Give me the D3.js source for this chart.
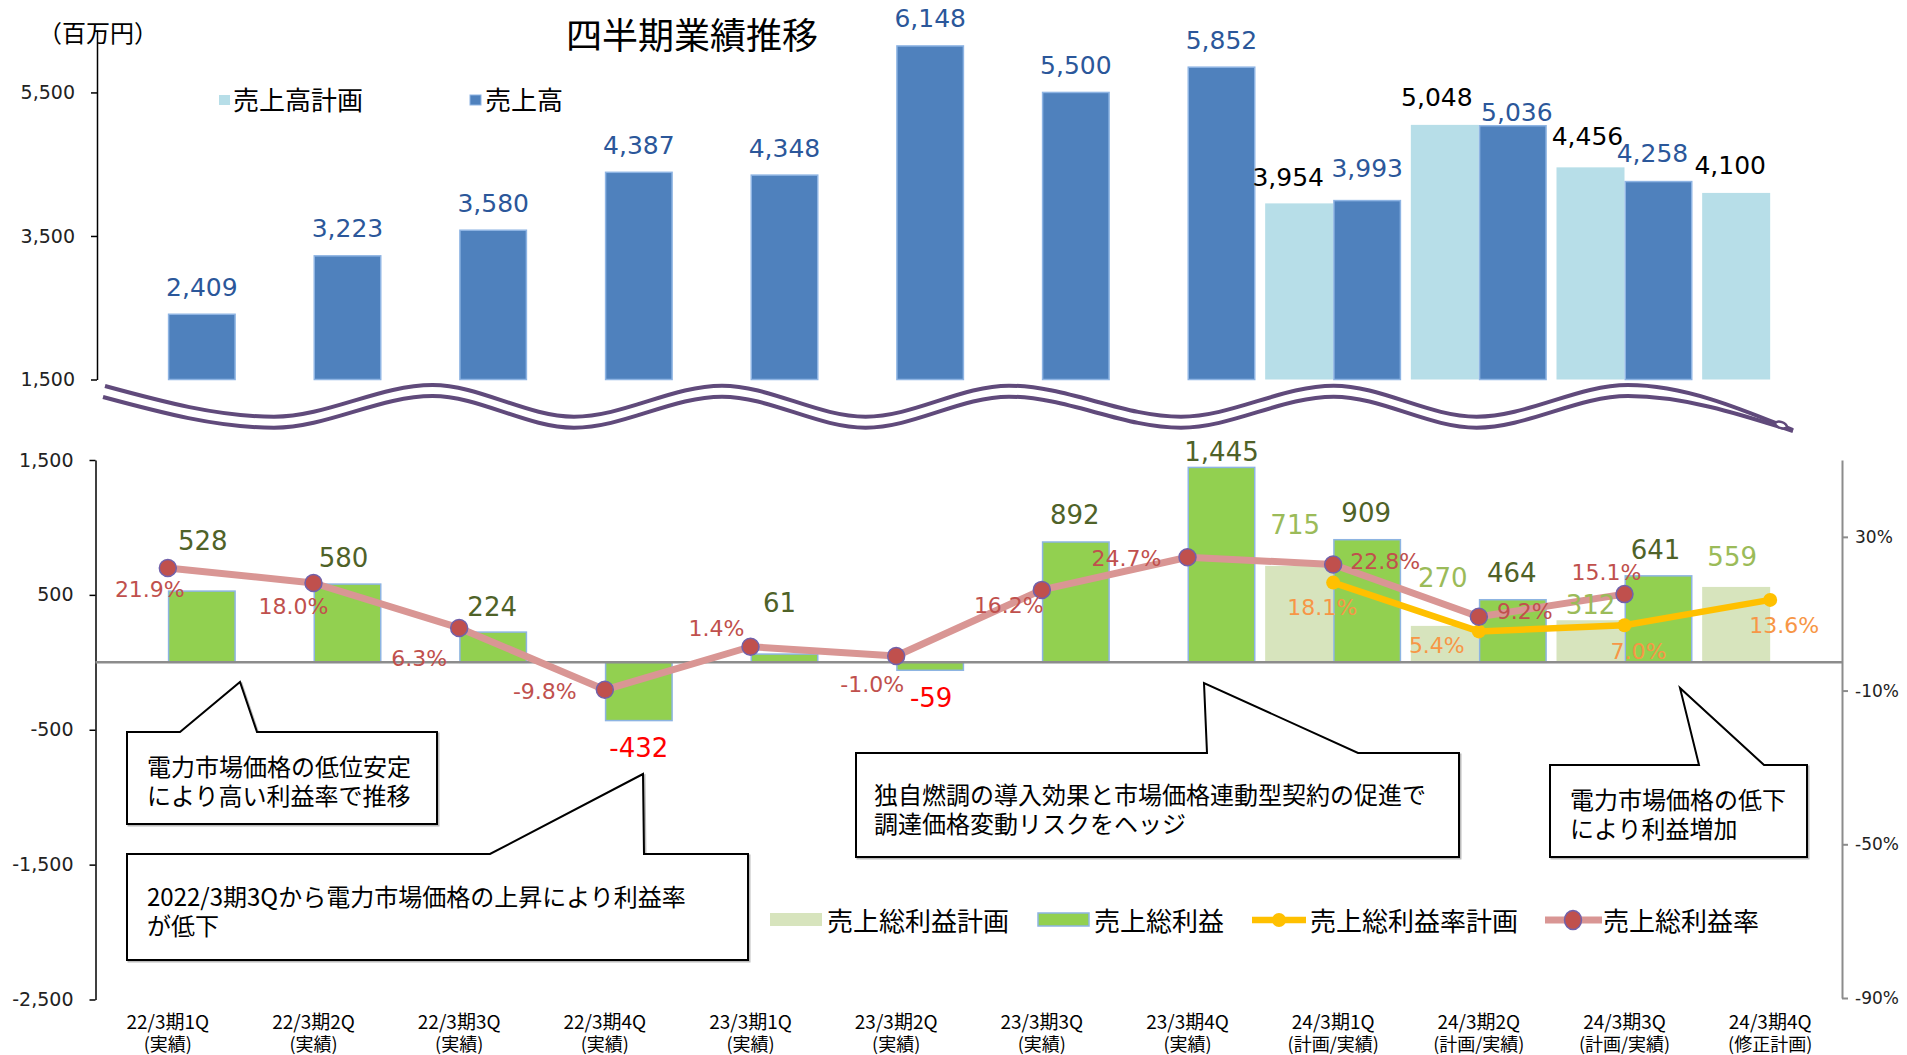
<!DOCTYPE html>
<html><head><meta charset="utf-8">
<script src="https://cdn.jsdelivr.net/npm/d3@7"></script>
<style>body{margin:0;background:#fff} svg{display:block}</style>
</head><body>
<svg id="c" width="1907" height="1055"></svg>
<script>
// ---------------- DATA ----------------
const categories = ["22/3期1Q","22/3期2Q","22/3期3Q","22/3期4Q","23/3期1Q","23/3期2Q","23/3期3Q","23/3期4Q","24/3期1Q","24/3期2Q","24/3期3Q","24/3期4Q"];
const categorySub = ["(実績)","(実績)","(実績)","(実績)","(実績)","(実績)","(実績)","(実績)","(計画/実績)","(計画/実績)","(計画/実績)","(修正計画)"];
const salesPlan   = [null,null,null,null,null,null,null,null,3954,5048,4456,4100];
const salesActual = [2409,3223,3580,4387,4348,6148,5500,5852,3993,5036,4258,null];
const gpPlan      = [null,null,null,null,null,null,null,null,715,270,312,559];
const gpActual    = [528,580,224,-432,61,-59,892,1445,909,464,641,null];
const marginPlan   = [null,null,null,null,null,null,null,null,18.1,5.4,7.0,13.6];
const marginActual = [21.9,18.0,6.3,-9.8,1.4,-1.0,16.2,24.7,22.8,9.2,15.1,null];
const topTicks   = [1500,3500,5500];
const leftTicks  = [1500,500,-500,-1500,-2500];
const rightTicks = [30,-10,-50,-90];
const titleText = "四半期業績推移";
const unitText = "（百万円）";
const topLegend = ["売上高計画","売上高"];
const bottomLegend = ["売上総利益計画","売上総利益","売上総利益率計画","売上総利益率"];
const notes = [
  ["電力市場価格の低位安定","により高い利益率で推移"],
  ["2022/3期3Qから電力市場価格の上昇により利益率","が低下"],
  ["独自燃調の導入効果と市場価格連動型契約の促進で","調達価格変動リスクをヘッジ"],
  ["電力市場価格の低下","により利益増加"]
];

// ---------------- SETUP ----------------
const svg = d3.select("#c");
const NUM = "'DejaVu Sans', sans-serif";
const JP = "'Noto Sans CJK JP', 'Noto Sans CJK SC', sans-serif";
const loc = d3.formatLocale({decimal:".", thousands:",", grouping:[3], currency:["",""], minus:"-"});
const fmtInt = loc.format(",");
const fmtPct = v => loc.format(".1f")(v) + "%";

const x = d3.scaleBand().domain(categories).range([95, 1843]);
const bw = x.bandwidth();
const barW = 68;
const cx = i => x(categories[i]) + bw / 2;
const sub = d3.scaleBand().domain(["plan","actual"]).range([-barW, barW]);
const yTop = d3.scaleLinear().domain([1500, 6370]).range([379.5, 30]);
const yL = d3.scaleLinear().domain([-2500, 1500]).range([999.5, 460]);
const yR = d3.scaleLinear().domain([-90, 50]).range([998, 460]);

// label nudges (layout only)
const nudgeSalesA = {8:[0,-32], 9:[4,-13], 10:[-6,-28]};
const nudgeSalesP = {8:[-11,-26], 9:[-8,-27], 10:[-3,-31], 11:[-6,-27]};
const nudgeGpA = {0:[1,-50],1:[-4,-26],2:[-1,-25],3:[0,27],4:[-5,-51],5:[1,28],6:[-1,-27],7:[0,-15],8:[-1,-27],9:[-1,-27],10:[-3,-26]};
const nudgeGpP = {8:[-4,-41], 9:[-2,-48], 10:[0,-15], 11:[-4,-30]};
const nudgeMA = {0:[-18,22],1:[-20,24],2:[-40,31],3:[-60,2],4:[-34,-18],5:[-24,29],6:[-33,16],7:[-61,1],8:[52,-3],9:[46,-5],10:[-18,-22]};
const nudgeMP = {8:[-11,25],9:[-42,14],10:[14,26],11:[14,26]};

// ---------------- TITLE / UNIT ----------------
svg.append("text").attr("x", 692).attr("y", 33).attr("text-anchor","middle").attr("dominant-baseline","central")
  .style("font-family", JP).style("font-size","36px").attr("fill","#000").text(titleText);
svg.append("text").attr("x", 38).attr("y", 31).attr("dominant-baseline","central")
  .style("font-family", JP).style("font-size","24px").attr("fill","#000").text(unitText);

// ---------------- TOP CHART ----------------
const gTopAxis = svg.append("g").attr("transform","translate(97,0)")
  .call(d3.axisLeft(yTop).tickValues(topTicks).tickFormat(fmtInt).tickSize(6).tickPadding(16).tickSizeOuter(0));
gTopAxis.selectAll("path,line").attr("stroke","#000").attr("stroke-width",1.5);
gTopAxis.selectAll("text").style("font-family",NUM).style("font-size","19px").attr("fill","#222");

// plan bars
svg.append("g").selectAll("rect").data(salesPlan.map((v,i)=>({v,i})).filter(d=>d.v!=null)).join("rect")
  .attr("x", d=>cx(d.i)+sub("plan")).attr("width", barW)
  .attr("y", d=>yTop(d.v)).attr("height", d=>yTop(1500)-yTop(d.v))
  .attr("fill","#B7DEE8");
// actual bars
svg.append("g").selectAll("rect").data(salesActual.map((v,i)=>({v,i})).filter(d=>d.v!=null)).join("rect")
  .attr("x", d=>cx(d.i)+sub("actual")+0.75).attr("width", barW-1.5)
  .attr("y", d=>yTop(d.v)).attr("height", d=>yTop(1500)-yTop(d.v))
  .attr("fill","#4F81BD").attr("stroke","#8EB4E3").attr("stroke-width",1.5);

// labels
svg.append("g").selectAll("text").data(salesPlan.map((v,i)=>({v,i})).filter(d=>d.v!=null)).join("text")
  .attr("x", d=>cx(d.i)+sub("plan")+barW/2+(nudgeSalesP[d.i]||[0,-27])[0])
  .attr("y", d=>yTop(d.v)+(nudgeSalesP[d.i]||[0,-27])[1])
  .attr("text-anchor","middle").attr("dominant-baseline","central")
  .style("font-family",NUM).style("font-size","25px").attr("fill","#000").text(d=>fmtInt(d.v));
svg.append("g").selectAll("text").data(salesActual.map((v,i)=>({v,i})).filter(d=>d.v!=null)).join("text")
  .attr("x", d=>cx(d.i)+sub("actual")+barW/2+(nudgeSalesA[d.i]||[0,-27])[0])
  .attr("y", d=>yTop(d.v)+(nudgeSalesA[d.i]||[0,-27])[1])
  .attr("text-anchor","middle").attr("dominant-baseline","central")
  .style("font-family",NUM).style("font-size","25px").attr("fill","#2B579A").text(d=>fmtInt(d.v));

// top legend
svg.append("rect").attr("x",219).attr("y",95).attr("width",11).attr("height",10).attr("fill","#B7DEE8");
svg.append("text").attr("x",233).attr("y",98).attr("dominant-baseline","central")
  .style("font-family",JP).style("font-size","26px").text(topLegend[0]);
svg.append("rect").attr("x",470).attr("y",95).attr("width",11).attr("height",10).attr("fill","#4F81BD").attr("stroke","#8EB4E3").attr("stroke-width",1);
svg.append("text").attr("x",485).attr("y",98).attr("dominant-baseline","central")
  .style("font-family",JP).style("font-size","26px").text(topLegend[1]);

// ---------------- WAVE BREAK ----------------
const wavePts = [[105,386],[274,416.7],[432.5,385],[574,416.7],[722,385.7],[865.6,416.7],[1009,385.7],[1181,416.7],[1333.7,385.7],[1476.6,416.7],[1628,385],[1793,430]];
const waveTop = d3.line().curve(d3.curveMonotoneX);
svg.append("path").attr("d", waveTop(wavePts)).attr("fill","none").attr("stroke","#604A7B").attr("stroke-width",4);
const wavePts2 = wavePts.map((p,i)=> i===0 ? [103,397] : (i===wavePts.length-1 ? [1793,431] : [p[0], p[1]+11]));
svg.append("path").attr("d", waveTop(wavePts2)).attr("fill","none").attr("stroke","#604A7B").attr("stroke-width",4);
svg.append("ellipse").attr("cx",1781).attr("cy",425).attr("rx",6).attr("ry",3).attr("transform","rotate(18,1781,425)")
  .attr("fill","#fff").attr("stroke","#604A7B").attr("stroke-width",2.5);

// ---------------- BOTTOM CHART ----------------
const gL = svg.append("g").attr("transform","translate(95.5,0)")
  .call(d3.axisLeft(yL).tickValues(leftTicks).tickFormat(fmtInt).tickSize(6).tickPadding(16).tickSizeOuter(0));
gL.selectAll("path,line").attr("stroke","#000").attr("stroke-width",1.5);
gL.selectAll("text").style("font-family",NUM).style("font-size","19px").attr("fill","#222");

const gR = svg.append("g").attr("transform","translate(1842,0)")
  .call(d3.axisRight(yR).tickValues(rightTicks).tickFormat(d=>loc.format("d")(d)+"%").tickSize(6).tickPadding(7).tickSizeOuter(0));
gR.selectAll("path,line").attr("stroke","#8C8C8C").attr("stroke-width",2);
gR.selectAll("text").style("font-family",NUM).style("font-size","17px").attr("fill","#222");

// bars
svg.append("g").selectAll("rect").data(gpPlan.map((v,i)=>({v,i})).filter(d=>d.v!=null)).join("rect")
  .attr("x", d=>cx(d.i)+sub("plan")).attr("width", barW)
  .attr("y", d=>Math.min(yL(d.v), yL(0))).attr("height", d=>Math.abs(yL(d.v)-yL(0)))
  .attr("fill","#D7E4BD");
svg.append("g").selectAll("rect").data(gpActual.map((v,i)=>({v,i})).filter(d=>d.v!=null)).join("rect")
  .attr("x", d=>cx(d.i)+sub("actual")+0.75).attr("width", barW-1.5)
  .attr("y", d=>Math.min(yL(d.v), yL(0))).attr("height", d=>Math.abs(yL(d.v)-yL(0)))
  .attr("fill","#92D050").attr("stroke","#8DB4E2").attr("stroke-width",1.5);

// zero line
svg.append("line").attr("x1",95.5).attr("x2",1842).attr("y1",yL(0)).attr("y2",yL(0))
  .attr("stroke","#8C8C8C").attr("stroke-width",2.5);

// lines
const lineGen = d3.line().defined(d=>d.v!=null).x(d=>cx(d.i)).y(d=>yR(d.v));
const mA = marginActual.map((v,i)=>({v,i}));
const mP = marginPlan.map((v,i)=>({v,i}));
svg.append("path").attr("d", lineGen(mA)).attr("fill","none").attr("stroke","#D99694").attr("stroke-width",7).attr("stroke-linejoin","round");
svg.append("path").attr("d", lineGen(mP)).attr("fill","none").attr("stroke","#FFC000").attr("stroke-width",6.5).attr("stroke-linejoin","round");
svg.append("g").selectAll("circle").data(mP.filter(d=>d.v!=null)).join("circle")
  .attr("cx", d=>cx(d.i)).attr("cy", d=>yR(d.v)).attr("r",7).attr("fill","#FFC000");
svg.append("g").selectAll("circle").data(mA.filter(d=>d.v!=null)).join("circle")
  .attr("cx", d=>cx(d.i)).attr("cy", d=>yR(d.v)).attr("r",8.5).attr("fill","#C0504D").attr("stroke","#7161AB").attr("stroke-width",1.5);

// labels for bars
svg.append("g").selectAll("text").data(gpPlan.map((v,i)=>({v,i})).filter(d=>d.v!=null)).join("text")
  .attr("x", d=>cx(d.i)+sub("plan")+barW/2+(nudgeGpP[d.i]||[0,-27])[0])
  .attr("y", d=>yL(d.v)+(nudgeGpP[d.i]||[0,-27])[1])
  .attr("text-anchor","middle").attr("dominant-baseline","central")
  .style("font-family",NUM).style("font-size","26px").attr("fill","#9BBB59").text(d=>fmtInt(d.v));
svg.append("g").selectAll("text").data(gpActual.map((v,i)=>({v,i})).filter(d=>d.v!=null)).join("text")
  .attr("x", d=>cx(d.i)+sub("actual")+barW/2+(nudgeGpA[d.i]||[0,-27])[0])
  .attr("y", d=>yL(d.v)+(nudgeGpA[d.i]||[0,-27])[1])
  .attr("text-anchor","middle").attr("dominant-baseline","central")
  .style("font-family",NUM).style("font-size","26px").attr("fill", d=>d.v<0?"#FF0000":"#4F6228").text(d=>fmtInt(d.v));

// labels for lines
svg.append("g").selectAll("text").data(mA.filter(d=>d.v!=null)).join("text")
  .attr("x", d=>cx(d.i)+nudgeMA[d.i][0]).attr("y", d=>yR(d.v)+nudgeMA[d.i][1])
  .attr("text-anchor","middle").attr("dominant-baseline","central")
  .style("font-family",NUM).style("font-size","22px").attr("fill","#C0504D").text(d=>fmtPct(d.v));
svg.append("g").selectAll("text").data(mP.filter(d=>d.v!=null)).join("text")
  .attr("x", d=>cx(d.i)+nudgeMP[d.i][0]).attr("y", d=>yR(d.v)+nudgeMP[d.i][1])
  .attr("text-anchor","middle").attr("dominant-baseline","central")
  .style("font-family",NUM).style("font-size","22px").attr("fill","#F79646").text(d=>fmtPct(d.v));

// x labels
const gx = svg.append("g");
gx.selectAll("text.l1").data(categories).join("text").attr("class","l1")
  .attr("x",(d,i)=>cx(i)).attr("y",1020).attr("text-anchor","middle").attr("dominant-baseline","central")
  .style("font-family",JP).style("font-size","19px").attr("fill","#000").text(d=>d);
gx.selectAll("text.l2").data(categorySub).join("text").attr("class","l2")
  .attr("x",(d,i)=>cx(i)).attr("y",1043).attr("text-anchor","middle").attr("dominant-baseline","central")
  .style("font-family",JP).style("font-size","18px").attr("fill","#000").text(d=>d);

// bottom legend
const lg = svg.append("g");
lg.append("rect").attr("x",770).attr("y",913).attr("width",52).attr("height",13).attr("fill","#D7E4BD");
lg.append("text").attr("x",827).attr("y",919).attr("dominant-baseline","central").style("font-family",JP).style("font-size","26px").text(bottomLegend[0]);
lg.append("rect").attr("x",1038).attr("y",913).attr("width",51).attr("height",13).attr("fill","#92D050").attr("stroke","#8DB4E2").attr("stroke-width",1.5);
lg.append("text").attr("x",1094).attr("y",919).attr("dominant-baseline","central").style("font-family",JP).style("font-size","26px").text(bottomLegend[1]);
lg.append("line").attr("x1",1252).attr("x2",1306).attr("y1",920).attr("y2",920).attr("stroke","#FFC000").attr("stroke-width",6.5);
lg.append("circle").attr("cx",1279).attr("cy",920).attr("r",7).attr("fill","#FFC000");
lg.append("text").attr("x",1310).attr("y",919).attr("dominant-baseline","central").style("font-family",JP).style("font-size","26px").text(bottomLegend[2]);
lg.append("line").attr("x1",1545).attr("x2",1602).attr("y1",920).attr("y2",920).attr("stroke","#D99694").attr("stroke-width",7);
lg.append("ellipse").attr("cx",1573).attr("cy",920).attr("rx",8.5).attr("ry",9.5).attr("fill","#C0504D").attr("stroke","#7161AB").attr("stroke-width",1.5);
lg.append("text").attr("x",1603).attr("y",919).attr("dominant-baseline","central").style("font-family",JP).style("font-size","26px").text(bottomLegend[3]);

// ---------------- CALLOUTS ----------------
const callouts = [
  {l:127, r:437, t:732, b:824, b1:180, b2:257, tip:[240,682], tx:147, ty:[765,794], lines:notes[0]},
  {l:127, r:748, t:854, b:960, b1:490, b2:644, tip:[643,774], tx:147, ty:[895,924], lines:notes[1]},
  {l:856, r:1459, t:753, b:857, b1:1207, b2:1358, tip:[1204,683], tx:874, ty:[793,822], lines:notes[2]},
  {l:1550, r:1807, t:765, b:857, b1:1699, b2:1764, tip:[1680,688], tx:1570, ty:[798,827], lines:notes[3]}
];
callouts.forEach(c=>{
  const p = d3.path();
  p.moveTo(c.l, c.t); p.lineTo(c.b1, c.t); p.lineTo(c.tip[0], c.tip[1]); p.lineTo(c.b2, c.t);
  p.lineTo(c.r, c.t); p.lineTo(c.r, c.b); p.lineTo(c.l, c.b); p.closePath();
  svg.append("path").attr("d", p.toString()).attr("transform","translate(1.5,1.5)").attr("fill","none").attr("stroke","#bbb").attr("stroke-width",2);
  svg.append("path").attr("d", p.toString()).attr("fill","#fff").attr("stroke","#000").attr("stroke-width",2);
  c.lines.forEach((t,k)=>{
    svg.append("text").attr("x",c.tx).attr("y",c.ty[k]).attr("dominant-baseline","central")
      .style("font-family",JP).style("font-size","24px").attr("fill","#000").text(t);
  });
});
</script>
</body></html>
